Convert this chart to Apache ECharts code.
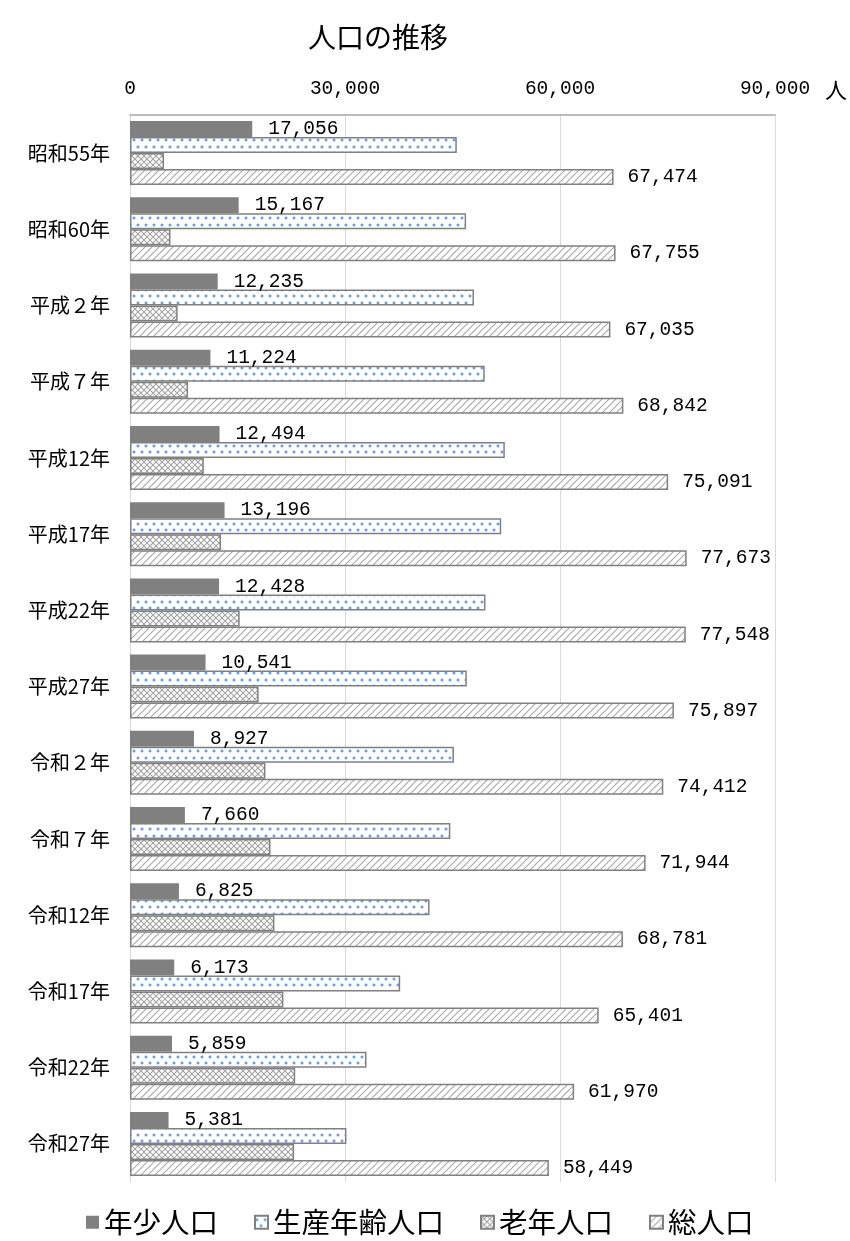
<!DOCTYPE html>
<html>
<head>
<meta charset="utf-8">
<script src="https://cdn.jsdelivr.net/npm/echarts@6/dist/echarts.min.js"></script>
<style>
html,body{margin:0;padding:0;background:#fff;}
#chart{width:850px;height:1241px;}
</style>
</head>
<body>
<div id="chart"></div>
<script>
const categories = ['昭和55年','昭和60年','平成２年','平成７年','平成12年','平成17年','平成22年','平成27年','令和２年','令和７年','令和12年','令和17年','令和22年','令和27年'];
const youth = [17056,15167,12235,11224,12494,13196,12428,10541,8927,7660,6825,6173,5859,5381];
const working = [45600,46900,48000,49500,52300,51800,49600,47000,45200,44700,41800,37700,33000,30200];
const elderly = [4750,5650,6650,8100,10300,12700,15300,17950,18900,19600,20150,21400,23050,22900];
const total = [67474,67755,67035,68842,75091,77673,77548,75897,74412,71944,68781,65401,61970,58449];
const seriesNames = ['年少人口','生産年齢人口','老年人口','総人口'];
const xTicks = {min:0, max:90000, interval:30000};

function makeCanvas(w,h,draw){
  const c=document.createElement('canvas'); c.width=w; c.height=h;
  const ctx=c.getContext('2d'); ctx.fillStyle='#fff'; ctx.fillRect(0,0,w,h); draw(ctx); return c;
}
const dotPat = makeCanvas(8,13,ctx=>{
  ctx.fillStyle='#c9dbf3';
  ctx.fillRect(0,3,4,2); ctx.fillRect(1,2,2,4);
  ctx.fillRect(4,9,4,2); ctx.fillRect(5,8,2,4);
  ctx.fillStyle='#6f9fe0';
  ctx.fillRect(1,3,2,2); ctx.fillRect(5,9,2,2);
});
const crossPat = makeCanvas(6,6,ctx=>{
  ctx.strokeStyle='#a3a3a3'; ctx.lineWidth=1.1;
  ctx.beginPath(); ctx.moveTo(0,0); ctx.lineTo(6,6); ctx.moveTo(6,0); ctx.lineTo(0,6); ctx.stroke();
});
const hatchPat = makeCanvas(7,7,ctx=>{
  ctx.strokeStyle='#a8a8a8'; ctx.lineWidth=1.1;
  ctx.beginPath(); ctx.moveTo(-1,8); ctx.lineTo(8,-1); ctx.moveTo(-1,1); ctx.lineTo(1,-1); ctx.moveTo(6,8); ctx.lineTo(8,6); ctx.stroke();
});
const fmt = v => v.toLocaleString('en-US');
const numFont = 'Liberation Mono';
const jpFont = '"Noto Sans CJK JP", sans-serif';

const chart = echarts.init(document.getElementById('chart'));
chart.setOption({
  animation:false,
  backgroundColor:'#fff',
  title:{text:'人口の推移', left:303, top:18, textStyle:{fontFamily:jpFont, fontSize:28, fontWeight:'normal', color:'#000'}},
  legend:{
    top:1203, left:81, icon:'rect', itemWidth:13, itemHeight:13, itemGap:36,
    textStyle:{fontFamily:jpFont, fontSize:28.5, color:'#000'},
    data:seriesNames
  },
  grid:{left:130, right:75, top:115, bottom:59},
  xAxis:{
    type:'value', position:'top', min:xTicks.min, max:xTicks.max, interval:xTicks.interval,
    name:'人', nameLocation:'end', nameGap:50,
    nameTextStyle:{fontFamily:jpFont, fontSize:22, color:'#000', verticalAlign:'bottom', padding:[0,0,14,0]},
    axisLine:{show:true, lineStyle:{color:'#a6a6a6', width:1.5}},
    axisTick:{show:false},
    axisLabel:{margin:16, fontFamily:numFont, fontSize:19.5, color:'#000', formatter:fmt},
    splitLine:{show:true, lineStyle:{color:'#d9d9d9', width:1}}
  },
  yAxis:{
    type:'category', inverse:true, data:categories,
    axisLine:{show:true, lineStyle:{color:'#d9d9d9', width:1}},
    axisTick:{show:false},
    axisLabel:{margin:20, fontFamily:jpFont, fontSize:20, color:'#000'}
  },
  series:[
    {name:seriesNames[0], type:'bar', data:youth, barGap:'0%', barCategoryGap:'16%',
     itemStyle:{color:'#808080'},
     label:{show:true, position:'right', distance:16, fontFamily:numFont, fontSize:19.5, color:'#000', formatter:p=>fmt(p.value)}},
    {name:seriesNames[1], type:'bar', data:working, barGap:'0%', barCategoryGap:'16%',
     itemStyle:{color:{image:dotPat, repeat:'repeat'}, borderColor:'#808080', borderWidth:1.5}},
    {name:seriesNames[2], type:'bar', data:elderly, barGap:'0%', barCategoryGap:'16%',
     itemStyle:{color:{image:crossPat, repeat:'repeat'}, borderColor:'#808080', borderWidth:1.5}},
    {name:seriesNames[3], type:'bar', data:total, barGap:'0%', barCategoryGap:'16%',
     itemStyle:{color:{image:hatchPat, repeat:'repeat'}, borderColor:'#808080', borderWidth:1.5},
     label:{show:true, position:'right', distance:14, fontFamily:numFont, fontSize:19.5, color:'#000', formatter:p=>fmt(p.value)}}
  ]
});
</script>
</body>
</html>
